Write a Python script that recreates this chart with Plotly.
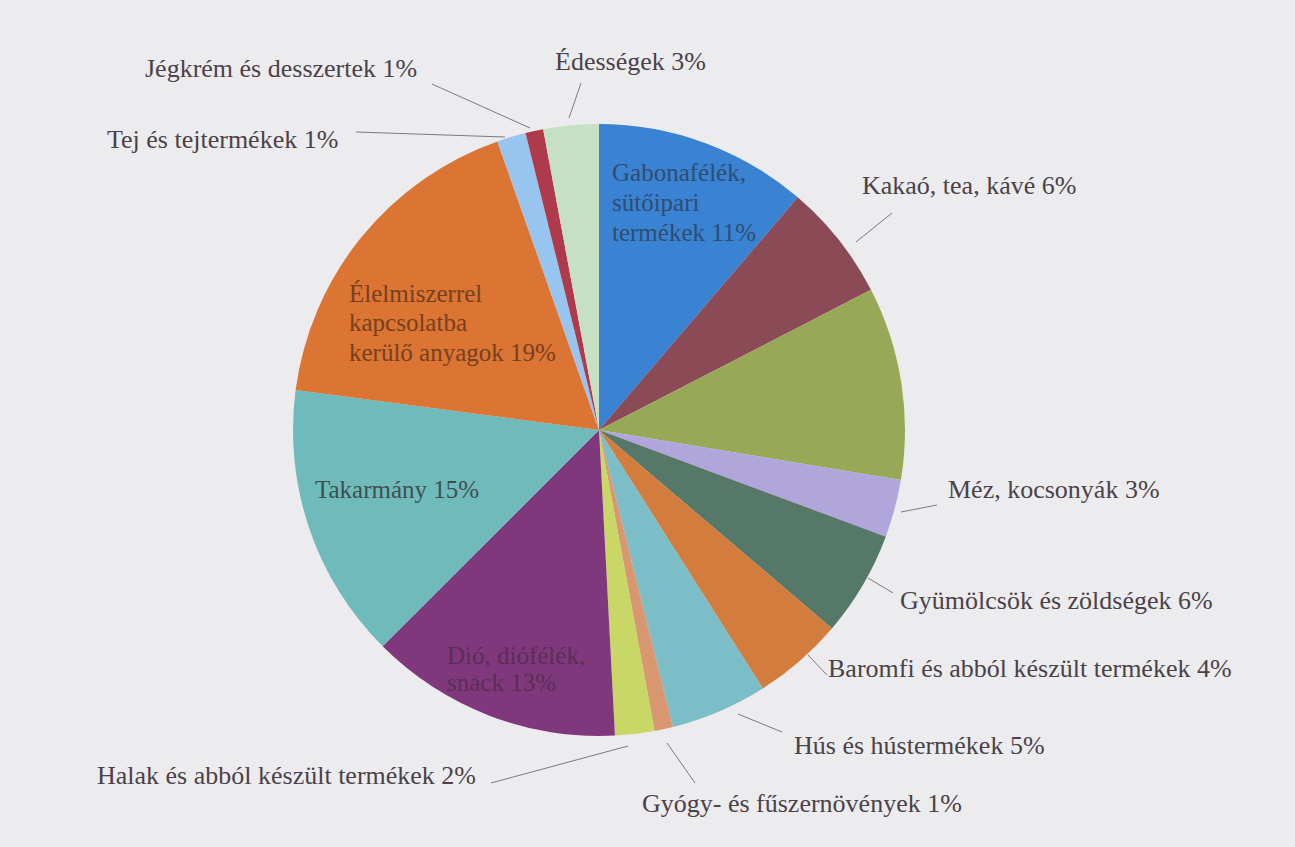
import plotly.graph_objects as go

W, H = 1295, 847

categories = [
    "Gabonafélék, sütőipari termékek",
    "Kakaó, tea, kávé",
    "(címke nélkül)",
    "Méz, kocsonyák",
    "Gyümölcsök és zöldségek",
    "Baromfi és abból készült termékek",
    "Hús és hústermékek",
    "Gyógy- és fűszernövények",
    "Halak és abból készült termékek",
    "Dió, diófélék, snack",
    "Takarmány",
    "Élelmiszerrel kapcsolatba kerülő anyagok",
    "Tej és tejtermékek",
    "Jégkrém és desszertek",
    "Édességek",
]
values = [11.25, 6.17, 10.19, 3.06, 5.56, 4.78, 5.11, 0.97, 2.08,
          13.33, 14.58, 17.53, 1.53, 0.94, 2.92]
pct_labels = ["11%", "6%", "", "3%", "6%", "4%", "5%", "1%", "2%",
              "13%", "15%", "19%", "1%", "1%", "3%"]
colors = ["#3a82d2", "#8a4a56", "#97a956", "#b0a6dc", "#567868", "#d27c3d",
          "#7cbec8", "#d8976e", "#c9d766", "#80387c", "#6fbaba", "#dc7433",
          "#98c4f0", "#ae3a4c", "#c6e0c6"]

fig = go.Figure(go.Pie(
    labels=categories,
    values=values,
    sort=False,
    direction="clockwise",
    rotation=0,
    textinfo="none",
    marker=dict(colors=colors, line=dict(width=0)),
    domain=dict(x=[(599 - 306) / W, (599 + 306) / W],
                y=[1 - (430 + 306) / H, 1 - (430 - 306) / H]),
    showlegend=False,
    hovertemplate="%{label}: %{percent}<extra></extra>",
))

FONT = "Liberation Serif, Times New Roman, serif"
TXT = "#4b4149"
SIZE = 26

def px(x, y):
    return x / W, 1 - y / H

outside = [
    (13, 143, 69), (14, 553, 62), (12, 105, 139), (1, 860, 186),
    (3, 946, 489), (4, 898, 600), (5, 826, 668), (6, 792, 745),
    (7, 640, 803), (8, 95, 775),
]
annotations = []
for i, x0, y0 in outside:
    xx, yy = px(x0, y0)
    annotations.append(dict(
        text=f"{categories[i]} {pct_labels[i]}", x=xx, y=yy, xref="paper", yref="paper",
        xanchor="left", yanchor="middle", showarrow=False,
        font=dict(family=FONT, size=SIZE, color=TXT)))

# inside labels, one annotation per text line
inside = [
    (0, 610, [(172, "Gabonafélék,"), (202, "sütőipari"), (232, "termékek")], "#2f4d72"),
    (11, 347, [(293, "Élelmiszerrel"), (322, "kapcsolatba"), (352, "kerülő anyagok")], "#76401f"),
    (10, 313, [(490, "Takarmány")], "#3e4f50"),
    (9, 445, [(655, "Dió, diófélék,"), (682, "snack")], "#5a2e57"),
]
for i, x0, lines, c in inside:
    for k, (y0, t) in enumerate(lines):
        if k == len(lines) - 1:
            t = f"{t} {pct_labels[i]}"
        xx, yy = px(x0, y0)
        annotations.append(dict(
            text=t, x=xx, y=yy, xref="paper", yref="paper",
            xanchor="left", yanchor="middle", align="left", showarrow=False,
            font=dict(family=FONT, size=SIZE - 1, color=c)))

leaders = [
    (432, 84, 530, 128), (581, 83, 569, 118), (356, 132, 505, 137),
    (892, 213, 856, 242), (937, 505, 901, 512), (893, 593, 868, 578),
    (827, 675, 808, 655), (782, 732, 738, 714), (695, 783, 667, 743),
    (491, 783, 628, 746),
]
shapes = []
for x0, y0, x1, y1 in leaders:
    a, b = px(x0, y0)
    c, d = px(x1, y1)
    shapes.append(dict(type="line", xref="paper", yref="paper", x0=a, y0=b, x1=c, y1=d,
                       line=dict(color="#7a7a7c", width=1)))

fig.update_layout(
    width=W, height=H,
    margin=dict(l=0, r=0, t=0, b=0),
    paper_bgcolor="#ececee",
    plot_bgcolor="#ececee",
    font=dict(family=FONT),
    annotations=annotations,
    shapes=shapes,
)

fig.write_html("out.html", config={"displayModeBar": False},
               post_script="document.body.style.margin='0';document.body.style.background='#ececee';")
